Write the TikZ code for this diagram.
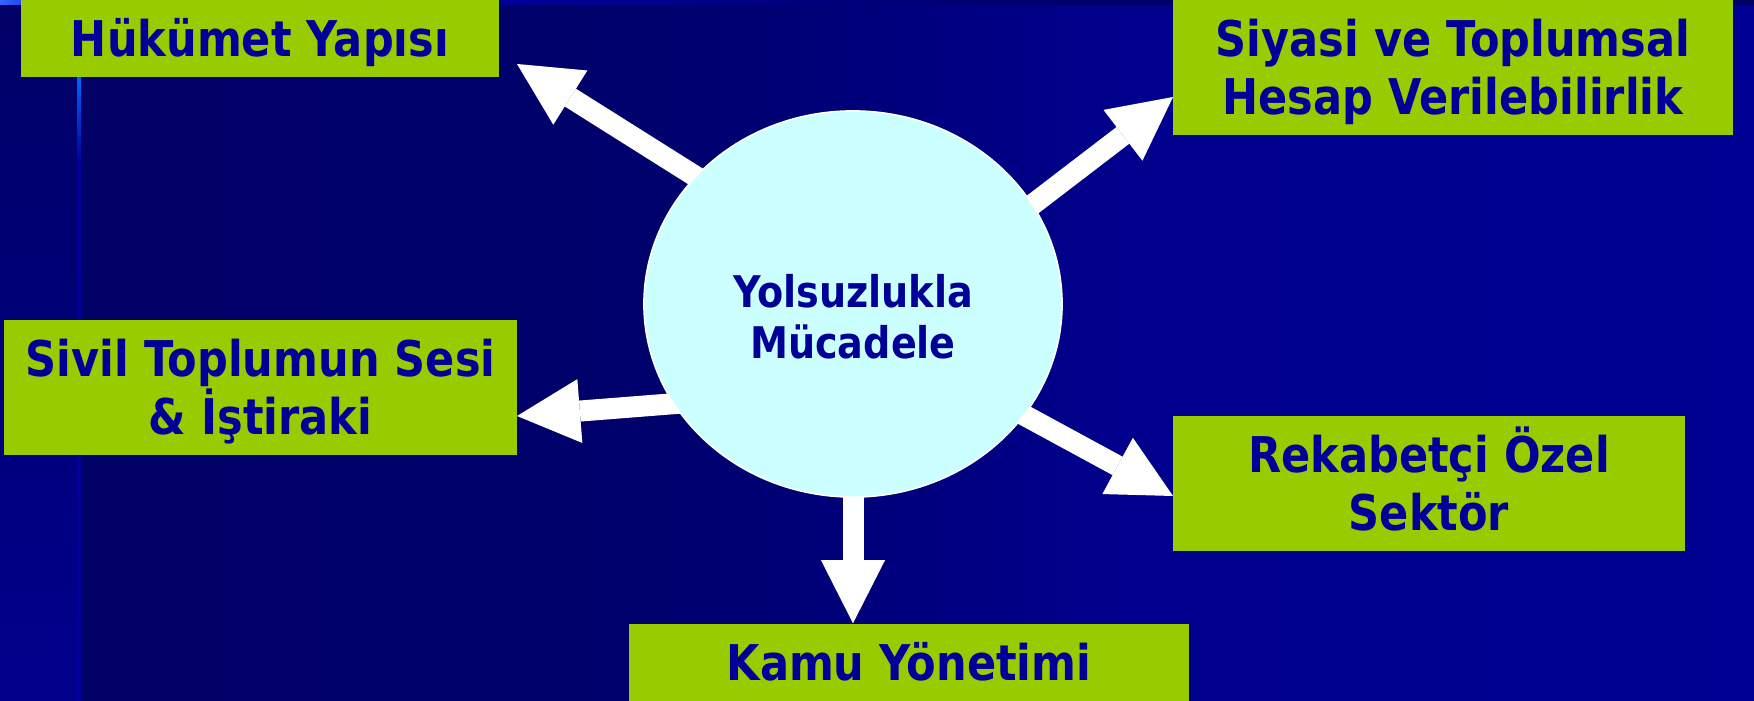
\documentclass[tikz,border=0pt]{standalone}
\usepackage{fontspec}
\setmainfont{DejaVu Sans}[FakeStretch=0.875]
\usetikzlibrary{arrows.meta, shapes.geometric, backgrounds}

\definecolor{navy}{HTML}{000099}
\definecolor{leaf}{HTML}{99CC00}
\definecolor{ice}{HTML}{CCFFFF}
\definecolor{deep}{HTML}{000066}
\definecolor{dusk}{HTML}{00006C}
\definecolor{tide}{HTML}{00008C}
\definecolor{sea}{HTML}{000092}
\definecolor{glow}{HTML}{0066FF}
\definecolor{rim}{HTML}{00009C}
\definecolor{sky}{HTML}{3366FF}
\definecolor{cobalt}{HTML}{0000CC}

\pgfdeclarehorizontalshading{slide}{100bp}{color(0bp)=(deep); color(25bp)=(deep); color(42bp)=(dusk); color(56bp)=(tide); color(75bp)=(sea); color(100bp)=(sea)}
\pgfdeclarehorizontalshading{topline}{100bp}{color(0bp)=(sky); color(25bp)=(sky); color(27bp)=(cobalt); color(39bp)=(navy); color(54bp)=(dusk); color(75bp)=(deep); color(100bp)=(deep)}

\begin{document}
\begin{tikzpicture}[x=0.01cm, y=-0.01cm]
	\tikzstyle{box} = [fill=leaf, text=navy, inner sep=0pt, align=center, font=\bfseries\fontsize{14}{16.5}\selectfont, text height=0.36cm, text depth=0cm]
	\tikzstyle{hub} = [ellipse, draw=white, line width=0.015cm, fill=ice, text=navy, inner sep=0pt, minimum width=4.18cm, minimum height=3.86cm, align=center, font=\bfseries\fontsize{12.4}{14.5}\selectfont, text height=1.08cm, text depth=0cm]
	\tikzstyle{flow} = [white, line width=0.21cm, shorten <=-0.15cm, -{Triangle[width=0.64cm, length=0.63cm, line width=0pt]}]

	\useasboundingbox (0,0) rectangle (1754,701);

	% slide background
	\begin{scope}[on background layer]
		\shade[shading=slide] (79,0) rectangle (1754,701);
		\shade[top color=deep, middle color=deep, bottom color=tide] (0,0) rectangle (79,701);
		\shade[top color=glow, bottom color=rim] (77,77) rectangle (81,160);
		\fill[rim] (77,160) rectangle (81,701);
		\shade[shading=topline] (0,0) rectangle (1754,5);
	\end{scope}

	\node[box, minimum width=4.78cm, minimum height=0.77cm] (h) at (260,38.5) {Hükümet Yapısı};
	\node[box, minimum width=5.60cm, minimum height=1.35cm, text height=0.94cm] (s) at (1453,67.5) {Siyasi ve Toplumsal\\Hesap Verilebilirlik};
	\node[box, minimum width=5.13cm, minimum height=1.35cm, text height=0.94cm] (v) at (260.5,387.5) {Sivil Toplumun Sesi\\\& İştiraki};
	\node[box, minimum width=5.12cm, minimum height=1.35cm, text height=0.94cm] (r) at (1429,483.5) {Rekabetçi Özel\\Sektör};
	\node[box, minimum width=5.60cm, minimum height=0.77cm] (k) at (909,662.5) {Kamu Yönetimi};

	\node[hub] (m) at (853,304) {Yolsuzlukla\\Mücadele};

	\coordinate (t1) at (517,64);
	\coordinate (t2) at (1173,97);
	\coordinate (t3) at (517,416);
	\coordinate (t4) at (1173,496);
	\coordinate (t5) at (m.south |- k.north);

	% arrows go under the circle
	\begin{scope}[on background layer]
		\path[flow]
			(m.141) edge (t1)
			(m.29) edge (t2)
			(m.209) edge (t3)
			(m.327) edge (t4)
			(m.south) edge (t5)
		;
	\end{scope}
\end{tikzpicture}
\end{document}
